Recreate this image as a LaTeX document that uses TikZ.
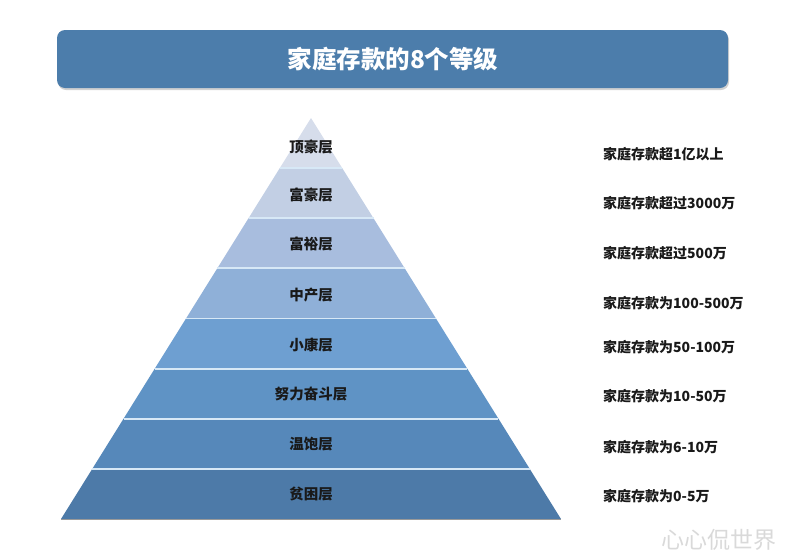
\documentclass[tikz,border=0pt]{standalone}
\usepackage{fontspec}
\usepackage{tikz}
\usetikzlibrary{positioning, calc}
\newfontfamily\cjk{Noto Sans CJK SC}
\definecolor{bannerblue}{RGB}{76, 125, 171}
\definecolor{bandA}{RGB}{214, 221, 235}
\definecolor{bandB}{RGB}{194, 207, 228}
\definecolor{bandC}{RGB}{168, 189, 222}
\definecolor{bandD}{RGB}{143, 176, 216}
\definecolor{bandE}{RGB}{110, 159, 209}
\definecolor{bandF}{RGB}{95, 147, 197}
\definecolor{bandG}{RGB}{86, 136, 186}
\definecolor{bandH}{RGB}{77, 122, 168}
\definecolor{sepline}{RGB}{215, 232, 246}

\begin{document}
\begin{tikzpicture}[
			x=1pt, y=-1pt,
			layer/.style={font=\cjk\bfseries\fontsize{14.5}{16}\selectfont, text=black!90, inner sep=0pt},
			amount/.style={font=\cjk\bfseries\fontsize{14}{16}\selectfont, text=black!90, anchor=west, inner sep=0pt},
			band/.style={draw=none}
		]
		\useasboundingbox (0,0) rectangle (787,555);
		
		% Title banner
		\fill[black!18, rounded corners=8pt] (58,32) rectangle (729,90);
		\fill[bannerblue, rounded corners=8pt] (57,30) rectangle (728,88);
		\node[font=\cjk\bfseries\fontsize{24.5}{28}\selectfont, text=white] (title) at (393,59) {家庭存款的8个等级};
		
		% Pyramid bands
		\foreach \i/\col in {0/bandA, 1/bandB, 2/bandC, 3/bandD, 4/bandE, 5/bandF, 6/bandG, 7/bandH} {
			\pgfmathsetmacro{\ytop}{118+50.125*\i}
			\pgfmathsetmacro{\ybot}{118+50.125*(\i+1)}
			\pgfmathsetmacro{\wtop}{0.6234*(\ytop-118)}
			\pgfmathsetmacro{\wbot}{0.6234*(\ybot-118)}
			\fill[band, \col] (311-\wtop,\ytop) -- (311+\wtop,\ytop) -- (311+\wbot,\ybot) -- (311-\wbot,\ybot) -- cycle;
		}
		\foreach \i in {1,...,7} {
			\pgfmathsetmacro{\ysep}{118+50.125*\i}
			\pgfmathsetmacro{\wsep}{0.6234*(\ysep-118)}
			\draw[sepline, line width=1.8pt] (311-\wsep,\ysep) -- (311+\wsep,\ysep);
		}
		\draw[black!40, line width=0.8pt] (61,519) -- (561,519);
		
		% Layer names
		\node[layer] (l1) at (311,147) {顶豪层};
		\node[layer] (l2) at (311,195) {富豪层};
		\node[layer] (l3) at (311,244) {富裕层};
		\node[layer] (l4) at (311,295) {中产层};
		\node[layer] (l5) at (311,345) {小康层};
		\node[layer] (l6) at (311,394) {努力奋斗层};
		\node[layer] (l7) at (311,444) {温饱层};
		\node[layer] (l8) at (311,494) {贫困层};
		
		% Amounts on the right
		\node[amount] (a1) at (603,154) {家庭存款超1亿以上};
		\node[amount] (a2) at (603,203) {家庭存款超过3000万};
		\node[amount] (a3) at (603,253) {家庭存款超过500万};
		\node[amount] (a4) at (603,303) {家庭存款为100-500万};
		\node[amount] (a5) at (603,347) {家庭存款为50-100万};
		\node[amount] (a6) at (603,396) {家庭存款为10-50万};
		\node[amount] (a7) at (603,447) {家庭存款为6-10万};
		\node[amount] (a8) at (603,496) {家庭存款为0-5万};
		
		% Watermark
		\node[font=\cjk\fontsize{23}{25}\selectfont, text=black!15, anchor=west, inner sep=0pt] (mark) at (661,540) {心心侃世界};
		\end{tikzpicture}
\end{document}
